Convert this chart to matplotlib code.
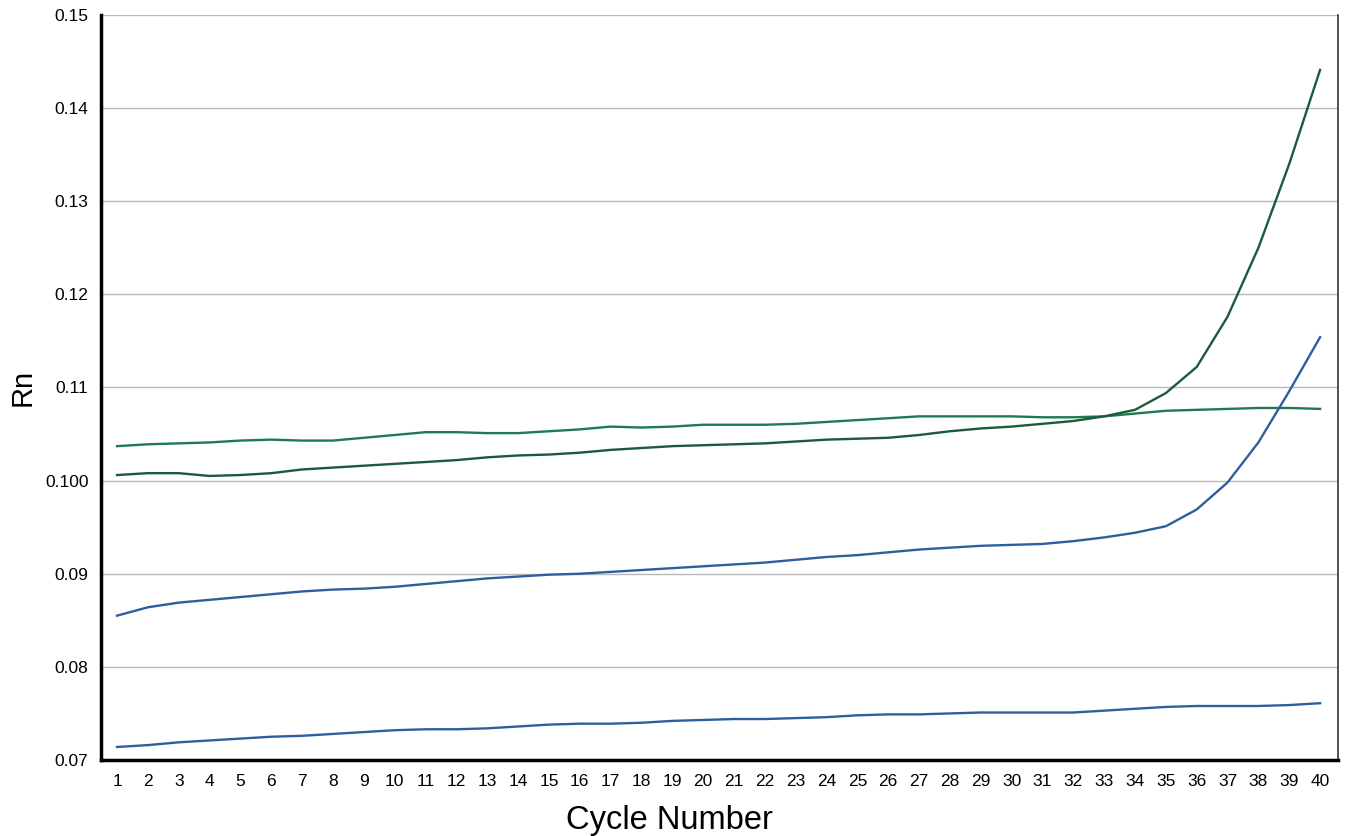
import matplotlib
matplotlib.use("Agg")
import matplotlib.pyplot as plt

cycles = list(range(1, 41))

green_flat = [0.1037, 0.1039, 0.1040, 0.1041, 0.1043, 0.1044, 0.1043, 0.1043, 0.1046, 0.1049,
              0.1052, 0.1052, 0.1051, 0.1051, 0.1053, 0.1055, 0.1058, 0.1057, 0.1058, 0.1060,
              0.1060, 0.1060, 0.1061, 0.1063, 0.1065, 0.1067, 0.1069, 0.1069, 0.1069, 0.1069,
              0.1068, 0.1068, 0.1069, 0.1072, 0.1075, 0.1076, 0.1077, 0.1078, 0.1078, 0.1077]

green_amp = [0.1006, 0.1008, 0.1008, 0.1005, 0.1006, 0.1008, 0.1012, 0.1014, 0.1016, 0.1018,
             0.1020, 0.1022, 0.1025, 0.1027, 0.1028, 0.1030, 0.1033, 0.1035, 0.1037, 0.1038,
             0.1039, 0.1040, 0.1042, 0.1044, 0.1045, 0.1046, 0.1049, 0.1053, 0.1056, 0.1058,
             0.1061, 0.1064, 0.1069, 0.1076, 0.1094, 0.1122, 0.1176, 0.1250, 0.1340, 0.1441]

blue_amp = [0.0855, 0.0864, 0.0869, 0.0872, 0.0875, 0.0878, 0.0881, 0.0883, 0.0884, 0.0886,
            0.0889, 0.0892, 0.0895, 0.0897, 0.0899, 0.0900, 0.0902, 0.0904, 0.0906, 0.0908,
            0.0910, 0.0912, 0.0915, 0.0918, 0.0920, 0.0923, 0.0926, 0.0928, 0.0930, 0.0931,
            0.0932, 0.0935, 0.0939, 0.0944, 0.0951, 0.0969, 0.0998, 0.1041, 0.1096, 0.1154]

blue_flat = [0.0714, 0.0716, 0.0719, 0.0721, 0.0723, 0.0725, 0.0726, 0.0728, 0.0730, 0.0732,
             0.0733, 0.0733, 0.0734, 0.0736, 0.0738, 0.0739, 0.0739, 0.0740, 0.0742, 0.0743,
             0.0744, 0.0744, 0.0745, 0.0746, 0.0748, 0.0749, 0.0749, 0.0750, 0.0751, 0.0751,
             0.0751, 0.0751, 0.0753, 0.0755, 0.0757, 0.0758, 0.0758, 0.0758, 0.0759, 0.0761]

y_ticks = [0.07, 0.08, 0.09, 0.10, 0.11, 0.12, 0.13, 0.14, 0.15]
y_labels = ["0.07", "0.08", "0.09", "0.100", "0.11", "0.12", "0.13", "0.14", "0.15"]

plt.rcParams['font.family'] = ['Liberation Sans', 'DejaVu Sans']

fig = plt.figure(figsize=(13.47, 8.36), dpi=100)
ax = fig.add_axes([0.075, 0.0909, 0.9183, 0.8912])

ax.plot(cycles, green_flat, color='#1f7a52', lw=1.7)
ax.plot(cycles, green_amp, color='#1c5a3c', lw=1.7)
ax.plot(cycles, blue_amp, color='#2d5f9e', lw=1.7)
ax.plot(cycles, blue_flat, color='#2d5f9e', lw=1.7)

ax.set_xlim(0.48, 40.58)
ax.set_ylim(0.07, 0.15)
ax.set_xticks(cycles)
ax.set_xticklabels([str(c) for c in cycles])
ax.set_yticks(y_ticks)
ax.set_yticklabels(y_labels)
ax.tick_params(axis='both', length=0, labelsize=12.5)
ax.tick_params(axis='y', pad=9)
ax.tick_params(axis='x', pad=10)

ax.grid(axis='y', color='#b8b8b8', lw=1.0)
ax.set_axisbelow(True)

ax.spines['top'].set_visible(False)
ax.spines['left'].set_linewidth(2.5)
ax.spines['bottom'].set_linewidth(2.5)
ax.spines['right'].set_linewidth(1.2)
ax.spines['right'].set_color('#333333')

ax.set_ylabel('Rn', fontsize=21, labelpad=6)
ax.set_xlabel('Cycle Number', fontsize=23.5, labelpad=10)
ax.xaxis.set_label_coords((669 - 101) / (1338 - 101), -0.061)

fig.savefig('out.png', dpi=100)
